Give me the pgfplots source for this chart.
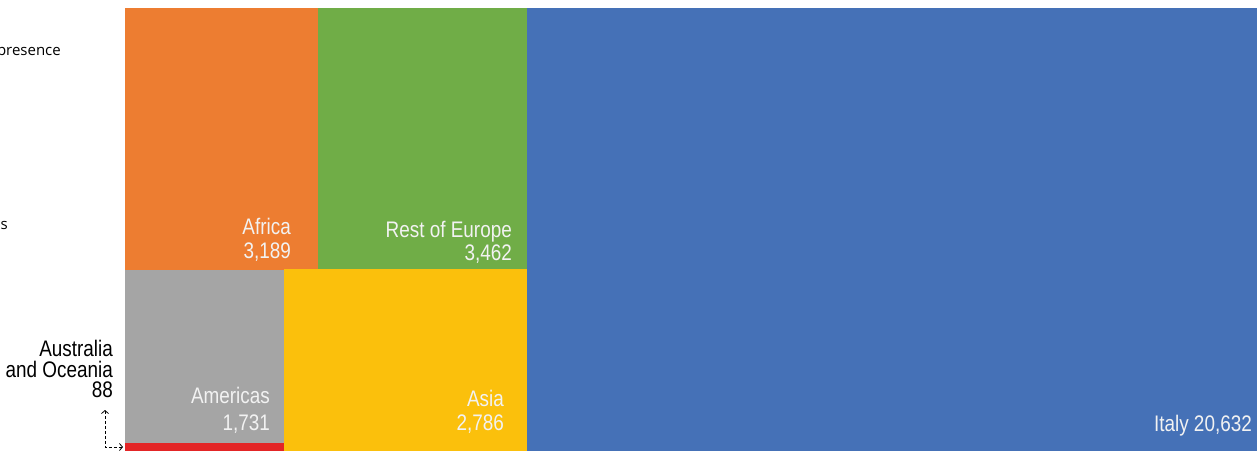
\documentclass[border=0pt]{standalone}
\usepackage{fontspec}
\setmainfont{Liberation Sans}[FakeStretch=0.84]
\newfontfamily\smallfont{Open Sans}
\usepackage{pgfplots}
\pgfplotsset{compat=1.18}
\usetikzlibrary{arrows.meta}
\definecolor{cAfrica}{HTML}{ED7D31}
\definecolor{cEurope}{HTML}{70AD47}
\definecolor{cAmer}{HTML}{A5A5A5}
\definecolor{cAsia}{HTML}{FBC00C}
\definecolor{cItaly}{HTML}{4571B7}
\definecolor{cAus}{HTML}{E32526}
\definecolor{lbl}{HTML}{F2F2F2}
\begin{document}
\begin{tikzpicture}[x=1pt,y=1pt]
\begin{scope}
\clip (0,0) rectangle (1257,450);
\begin{axis}[
  at={(0,0)}, anchor=south west,
  scale only axis, width=1257pt, height=450pt,
  xmin=0, xmax=1257, ymin=0, ymax=450, y dir=reverse,
  axis lines=none, ticks=none, clip=false,
  every axis plot/.append style={draw=none},
]
% treemap tiles (pixel layout); values: Italy 20632, Rest of Europe 3462, Africa 3189, Asia 2786, Americas 1731, Australia and Oceania 88
\addplot[fill=cAfrica] coordinates {(125,8) (318,8) (318,270) (125,270)} --cycle;
\addplot[fill=cEurope] coordinates {(318,8) (527,8) (527,269) (318,269)} --cycle;
\addplot[fill=cAmer]   coordinates {(125,270) (284,270) (284,443) (125,443)} --cycle;
\addplot[fill=cAsia]   coordinates {(284,269) (527,269) (527,460) (284,460)} --cycle;
\addplot[fill=cAus]    coordinates {(125,443) (284,443) (284,460) (125,460)} --cycle;
\addplot[fill=cItaly]  coordinates {(527,8) (1270,8) (1270,460) (527,460)} --cycle;

\begin{scope}[every node/.style={font=\fontsize{22.5}{24}\selectfont, text=lbl, anchor=east, inner sep=0pt}]
\node at (axis cs:291,226) {Africa};
\node at (axis cs:291,252) {3,189};
\node at (axis cs:512,232) {Rest of Europe};
\node at (axis cs:512,254) {3,462};
\node at (axis cs:270,395) {Americas};
\node at (axis cs:270,424) {1,731};
\node at (axis cs:504,398) {Asia};
\node at (axis cs:504,424) {2,786};
\node at (axis cs:1252,426) {Italy 20,632};
\end{scope}
\begin{scope}[every node/.style={font=\fontsize{22.5}{24}\selectfont, text=black, anchor=east, inner sep=0pt}]
\node at (axis cs:113,348) {Australia};
\node at (axis cs:113,369) {and Oceania};
\node at (axis cs:113,390) {88};
\end{scope}
\draw[densely dashed, line width=0.8pt, {Straight Barb[length=3pt,width=7pt]}-{Straight Barb[length=3pt,width=7pt]}]
  (axis cs:105,410) -- (axis cs:105,447) -- (axis cs:123,447);
\node[font=\smallfont\fontsize{15}{17}\selectfont, anchor=east, inner sep=0pt] at (axis cs:61,53) {presence};
\node[font=\smallfont\fontsize{15}{17}\selectfont, anchor=east, inner sep=0pt] at (axis cs:8,225) {s};
\end{axis}
\end{scope}
\useasboundingbox (0,0) rectangle (1257,450);
\end{tikzpicture}
\end{document}
